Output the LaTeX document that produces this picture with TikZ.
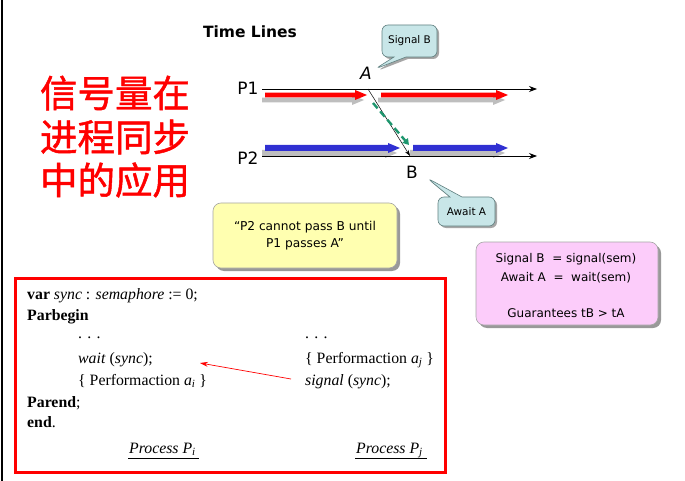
\documentclass[tikz,border=0pt]{standalone}
\usepackage{fontspec}
\setmainfont{Liberation Serif}
\newfontfamily\comic{DejaVu Sans}
\newfontfamily\cjk[FakeBold=1.2]{Noto Sans CJK SC}
\usetikzlibrary{arrows.meta,shapes.callouts,shadows}
\definecolor{calloutblue}{RGB}{200,230,232}
\definecolor{noteyellow}{RGB}{255,255,176}
\definecolor{notepink}{RGB}{252,204,250}
\definecolor{dashgreen}{RGB}{30,150,110}
\definecolor{arrred}{RGB}{255,0,0}
\definecolor{arrblue}{RGB}{48,48,210}
\definecolor{shadowgray}{RGB}{190,190,190}
\newcommand\fatarrow[5]{% x0, tip, y, color, halfthick
  \fill[shadowgray] (#1-3,#3+5-#5) -- (#2-15,#3+5-#5) -- (#2-15,#3+5-5) -- (#2-3,#3+5) -- (#2-15,#3+5+5) -- (#2-15,#3+5+#5) -- (#1-3,#3+5+#5) -- cycle;
  \fill[#4] (#1,#3-#5) -- (#2-12,#3-#5) -- (#2-12,#3-5) -- (#2,#3) -- (#2-12,#3+5) -- (#2-12,#3+#5) -- (#1,#3+#5) -- cycle;}
\begin{document}
\begin{tikzpicture}[x=1pt,y=-1pt,
  comictext/.style={font=\comic, inner sep=0pt},
  notebox/.style={rectangle, rounded corners=8pt, draw=gray!70, line width=0.6pt, align=center,
    drop shadow={shadow xshift=3pt, shadow yshift=-3pt, fill=black!40, opacity=1}},
  callbox/.style={rectangle callout, rounded corners=6pt, fill=calloutblue, draw=gray!75!teal, line width=0.6pt,
    font=\comic\fontsize{10.5}{12}\selectfont, callout pointer width=12pt, inner sep=1pt,
    drop shadow={shadow xshift=2pt, shadow yshift=-2pt, fill=black!35, opacity=1}},
  codeline/.style={anchor=base west, inner sep=0pt, font=\fontsize{15.8}{18}\selectfont},
  timeline/.style={line width=0.8pt, -{Stealth[length=8pt,width=6pt]}},
  pinktext/.style={comictext, font=\comic\fontsize{12}{14}\selectfont},
  cntext/.style={text=red, font=\cjk\fontsize{37.5}{40}\selectfont, inner sep=0pt},
  bigcomic/.style={comictext, font=\comic\fontsize{17}{19}\selectfont},
]
\useasboundingbox (0,0) rectangle (685,481);
\fill[white] (0,0) rectangle (685,481);
\coordinate (edgetop) at (2,0);
\coordinate (edgebot) at (2,481);
\draw[line width=2.2pt] (edgetop) -- (edgebot);

% Chinese title
\node[cntext] (cn1) at (115,93) {信号量在};
\node[cntext] (cn2) at (115,137) {进程同步};
\node[cntext] (cn3) at (115,180) {中的应用};

% Time lines
\node[comictext, font=\comic\bfseries\fontsize{15.5}{17}\selectfont] (title) at (250,32) {Time Lines};
\node[bigcomic] (lp1) at (248,88) {P1};
\node[bigcomic] (lp2) at (248,158) {P2};
\coordinate (p1s) at (262,89);
\coordinate (p1e) at (537,89);
\coordinate (p2s) at (262,156);
\coordinate (p2e) at (537,156);

\fatarrow{265}{367}{95}{arrred}{2.4}
\fatarrow{381}{508}{95}{arrred}{2.4}
\fatarrow{265}{400}{148}{arrblue}{3}
\fatarrow{413}{508}{148}{arrblue}{3}

\draw[timeline] (p1s) -- (p1e);
\draw[timeline] (p2s) -- (p2e);

\node[bigcomic, font=\comic\itshape\fontsize{17}{19}\selectfont] (la) at (366,73) {A};
\node[bigcomic] (lb) at (412,172) {B};
\coordinate (pa) at (368,89);
\coordinate (pb) at (410,156);
\draw[line width=0.5pt, -{Stealth[length=6pt,width=4pt]}] (pa) -- (pb);
\coordinate (ga) at (373,103);
\coordinate (gb) at (409,145);
\draw[dashgreen, line width=2.4pt, dash pattern=on 7pt off 4pt, -{Triangle[length=6pt,width=7pt]}] (ga) -- (gb);

\coordinate (sigtip) at (375,69);
\node[callbox, minimum width=55pt, minimum height=32pt, callout absolute pointer=(sigtip)] (sigb) at (409.5,41) {Signal B};
\coordinate (awtip) at (427,178);
\node[callbox, minimum width=57pt, minimum height=29pt, callout absolute pointer=(awtip)] (awa) at (466.5,211.5) {Await A};

% notes
\node[notebox, fill=noteyellow, minimum width=184pt, minimum height=65pt,
  font=\comic\fontsize{12.2}{17}\selectfont] (yel) at (305,235.5) {“P2 cannot pass B until\\P1 passes A”};
\node[notebox, fill=notepink, minimum width=182pt, minimum height=83pt, inner sep=0pt] (pink) at (567,283.5) {};
\node[pinktext] (pk1) at (566,259) {Signal B\ \ = signal(sem)};
\node[pinktext] (pk2) at (566,278) {Await A\ \ =\ \ wait(sem)};
\node[pinktext] (pk3) at (566,313) {Guarantees tB > tA};

% code box
\draw[red, line width=3pt] (15,278) rectangle (445,472);
\node[codeline] (c1) at (27,299) {\textbf{var} \textit{sync} : \textit{semaphore} := 0;};
\node[codeline] (c2) at (27,320) {\textbf{Parbegin}};
\node[codeline] (c3) at (78,338) {. . .};
\node[codeline] (c4) at (78,363) {\textit{wait} (\textit{sync});};
\node[codeline] (c5) at (78,385) {\{ Performaction \textit{a}\textsubscript{\textit{i}} \}};
\node[codeline] (c6) at (27,407) {\textbf{Parend};};
\node[codeline] (c7) at (27,427) {\textbf{end}.};
\node[codeline] (c8) at (305,338) {. . .};
\node[codeline] (c9) at (305,363) {\{ Performaction \textit{a}\textsubscript{\textit{j}} \}};
\node[codeline] (c10) at (305,385) {\textit{signal} (\textit{sync});};
\node[codeline] (pi) at (129,453) {\textit{Process P}\textsubscript{\textit{i}}};
\node[codeline] (pj) at (356,453) {\textit{Process P}\textsubscript{\textit{j}}};
\draw[line width=0.7pt] (128,458) -- (199,458);
\draw[line width=0.7pt] (355,458) -- (427,458);
\coordinate (rs) at (291,379);
\coordinate (re) at (200,363);
\draw[red, line width=0.7pt, -{Stealth[length=8pt,width=5pt]}] (rs) -- (re);
\end{tikzpicture}
\end{document}
